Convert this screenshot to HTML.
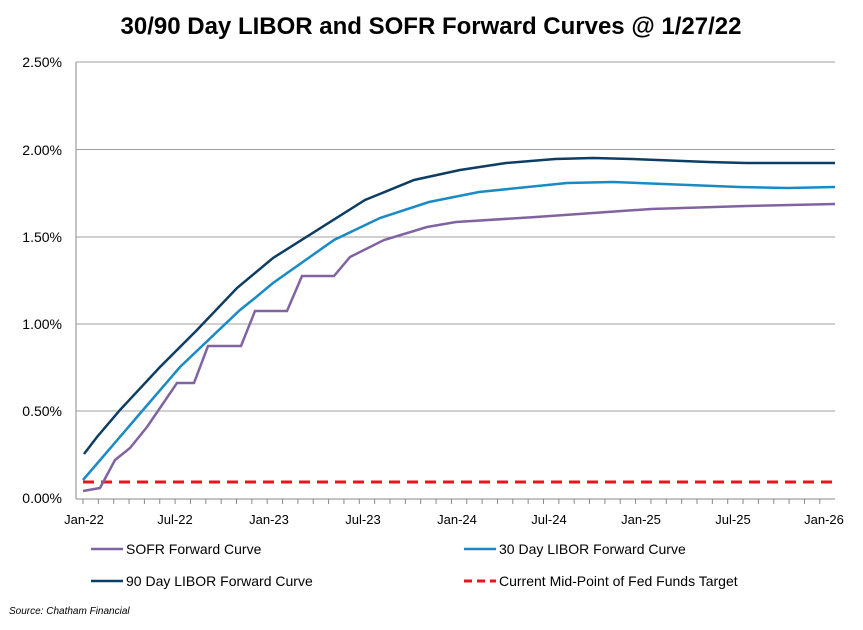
<!DOCTYPE html>
<html><head><meta charset="utf-8"><style>
body{margin:0;background:#fff;width:863px;height:625px;overflow:hidden;font-family:"Liberation Sans",sans-serif}
</style></head><body>
<svg width="863" height="625" xmlns="http://www.w3.org/2000/svg" font-family="Liberation Sans, sans-serif">
<text x="431" y="34" text-anchor="middle" font-size="24" font-weight="bold">30/90 Day LIBOR and SOFR Forward Curves @ 1/27/22</text>
<g stroke="#a0a0a0" stroke-width="1">
<line x1="76" y1="62" x2="835" y2="62"/>
<line x1="76" y1="149.5" x2="835" y2="149.5"/>
<line x1="76" y1="237" x2="835" y2="237"/>
<line x1="76" y1="324" x2="835" y2="324"/>
<line x1="76" y1="411" x2="835" y2="411"/>
</g>
<line x1="76" y1="62" x2="76" y2="499" stroke="#888"/>
<line x1="76" y1="499" x2="835" y2="499" stroke="#888"/>
<g stroke="#888" id="ticks"></g>
<g font-size="14" text-anchor="end" fill="#000">
<text x="62" y="67">2.50%</text><text x="62" y="155">2.00%</text><text x="62" y="242">1.50%</text>
<text x="62" y="329">1.00%</text><text x="62" y="416">0.50%</text><text x="62" y="503">0.00%</text>
</g>
<g font-size="13" text-anchor="middle">
<text x="84" y="524">Jan-22</text><text x="175" y="524">Jul-22</text><text x="269" y="524">Jan-23</text>
<text x="363" y="524">Jul-23</text><text x="457" y="524">Jan-24</text><text x="549" y="524">Jul-24</text>
<text x="641" y="524">Jan-25</text><text x="733" y="524">Jul-25</text><text x="824" y="524">Jan-26</text>
</g>
<line x1="83" y1="482" x2="835" y2="482" stroke="#e8161b" stroke-width="3" stroke-dasharray="11,7"/>
<polyline fill="none" stroke="#8064a2" stroke-width="2.5" points="83,491 100,488 115,460 130,448 147,427 177,383 194,383 208,346 241,346 255,311 287,311 302,276 334,276 350,257 384,240 427,227 456,222 536,217 593,213 651,209 746,206 835,204"/>
<polyline fill="none" stroke="#1a8ac6" stroke-width="2.5" points="83,480 137,417 180,367 240,310 255,298 273,283 334,240 380,218 429,202 479,192 567,183 613,182 739,187 788,188 835,187"/>
<polyline fill="none" stroke="#0e3d64" stroke-width="2.5" points="84,454 97,437 120,410 160,367 197,330 237,288 273,258 365,200 414,180 460,170 506,163 555,159 593,158 632,159 708,162 746,163 835,163"/>
<g font-size="14">
<line x1="91" y1="549" x2="123" y2="549" stroke="#8064a2" stroke-width="2.5"/><text x="126" y="554">SOFR Forward Curve</text>
<line x1="91" y1="581" x2="123" y2="581" stroke="#0e3d64" stroke-width="2.5"/><text x="126" y="586">90 Day LIBOR Forward Curve</text>
<line x1="464" y1="549" x2="496" y2="549" stroke="#1a8ac6" stroke-width="2.5"/><text x="499" y="554">30 Day LIBOR Forward Curve</text>
<line x1="464" y1="581" x2="496" y2="581" stroke="#e8161b" stroke-width="3" stroke-dasharray="8,5"/><text x="499" y="586">Current Mid-Point of Fed Funds Target</text>
</g>
<text x="9" y="614" font-size="10" font-style="italic">Source: Chatham Financial</text>
</svg>
<script>
var g=document.getElementById('ticks');
for(var i=0;i<=49;i++){var x=83+i*15.35;if(x>835)break;var l=document.createElementNS('http://www.w3.org/2000/svg','line');l.setAttribute('x1',x);l.setAttribute('x2',x);l.setAttribute('y1',499);l.setAttribute('y2',504);g.appendChild(l);}
</script>
</body></html>
